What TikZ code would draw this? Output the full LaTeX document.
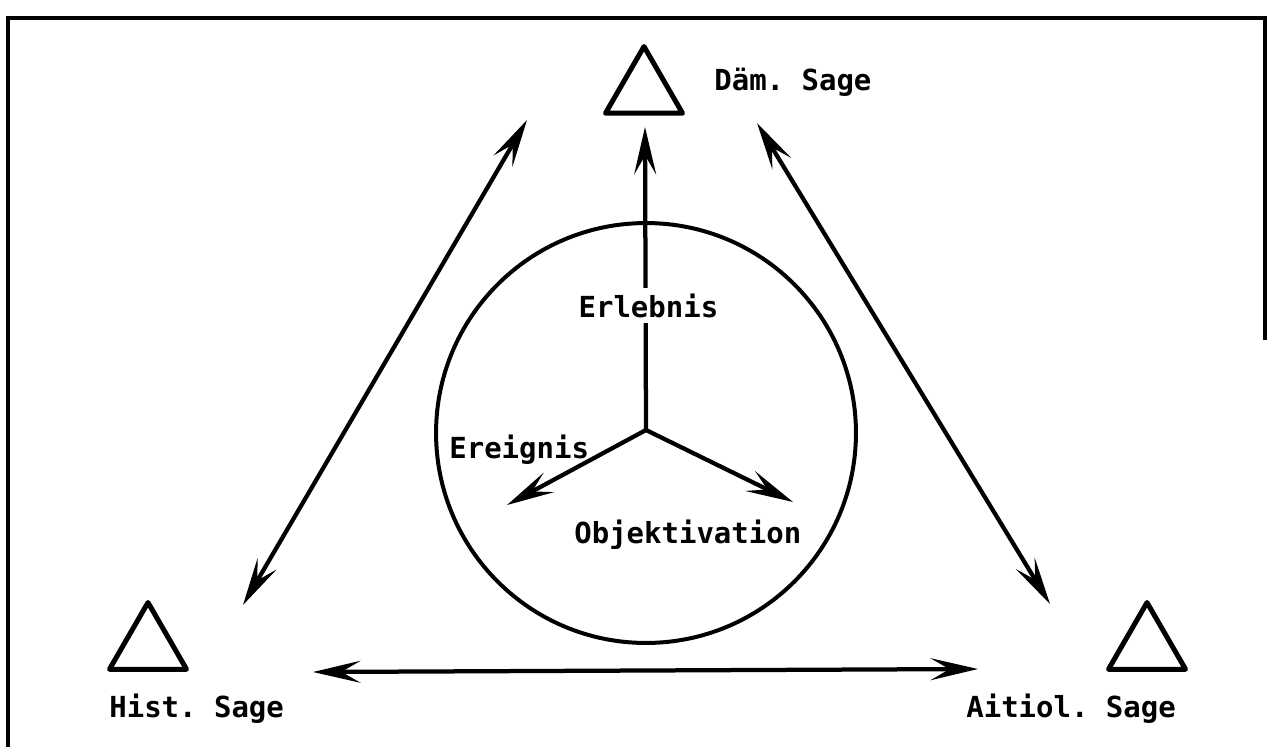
\documentclass[tikz,border=0pt]{standalone}
\usepackage{fontspec}
\setmonofont{DejaVu Sans Mono}
\usetikzlibrary{arrows.meta,shapes.geometric}
\tikzset{mytip/.tip={Stealth[length=0.95cm,width=0.44cm,inset=0.38cm]}}
\begin{document}
\begin{tikzpicture}[x=0.02cm,y=-0.02cm,
  lbl/.style={font=\ttfamily\bfseries\fontsize{16.5}{20}\selectfont, inner sep=0pt, anchor=base west},
  tri/.style={draw, regular polygon, regular polygon sides=3, minimum size=1.78cm, inner sep=0pt, line width=0.1cm, line join=round},
  arr/.style={line width=0.085cm, -{mytip}},
  darr/.style={line width=0.085cm, {mytip}-{mytip}}]
\useasboundingbox (0,0) rectangle (1267,747);
% frame
\draw[line width=0.1cm] (8,747) -- (8,18) -- (1265,18) -- (1265,340);
% triangles
\node[tri] (tdam) at (644,91) {};
\node[tri] (thist) at (148,647) {};
\node[tri] (tait) at (1147,647) {};
% labels
\node[lbl] (ldam) at (714,90) {Däm. Sage};
\node[lbl] (lhist) at (109,717) {Hist. Sage};
\node[lbl] (lait) at (966,717) {Aitiol. Sage};
% circle
\node[draw, circle, minimum size=8.4cm, inner sep=0pt, line width=0.08cm] (circ) at (646,433) {};
\coordinate (c) at (646,430);
% arrow endpoints
\coordinate (eup) at (645,127);
\coordinate (eer) at (507,505);
\coordinate (eob) at (793,502);
\coordinate (hd1) at (243,605);
\coordinate (hd2) at (527,120);
\coordinate (da1) at (757,123);
\coordinate (da2) at (1050,604);
\coordinate (ha1) at (313,672);
\coordinate (ha2) at (978,669);
% inner arrows
\draw[arr] (c) -- (eup);
\node[lbl, fill=white, inner sep=3pt] (lerl) at (573,317) {Erlebnis};
\draw[arr] (c) -- (eer);
\draw[arr] (c) -- (eob);
\node[lbl] (lere) at (449,458) {Ereignis};
\node[lbl] (lobj) at (574,543) {Objektivation};
% outer arrows
\draw[darr] (hd1) -- (hd2);
\draw[darr] (da1) -- (da2);
\draw[darr] (ha1) -- (ha2);
\end{tikzpicture}
\end{document}
